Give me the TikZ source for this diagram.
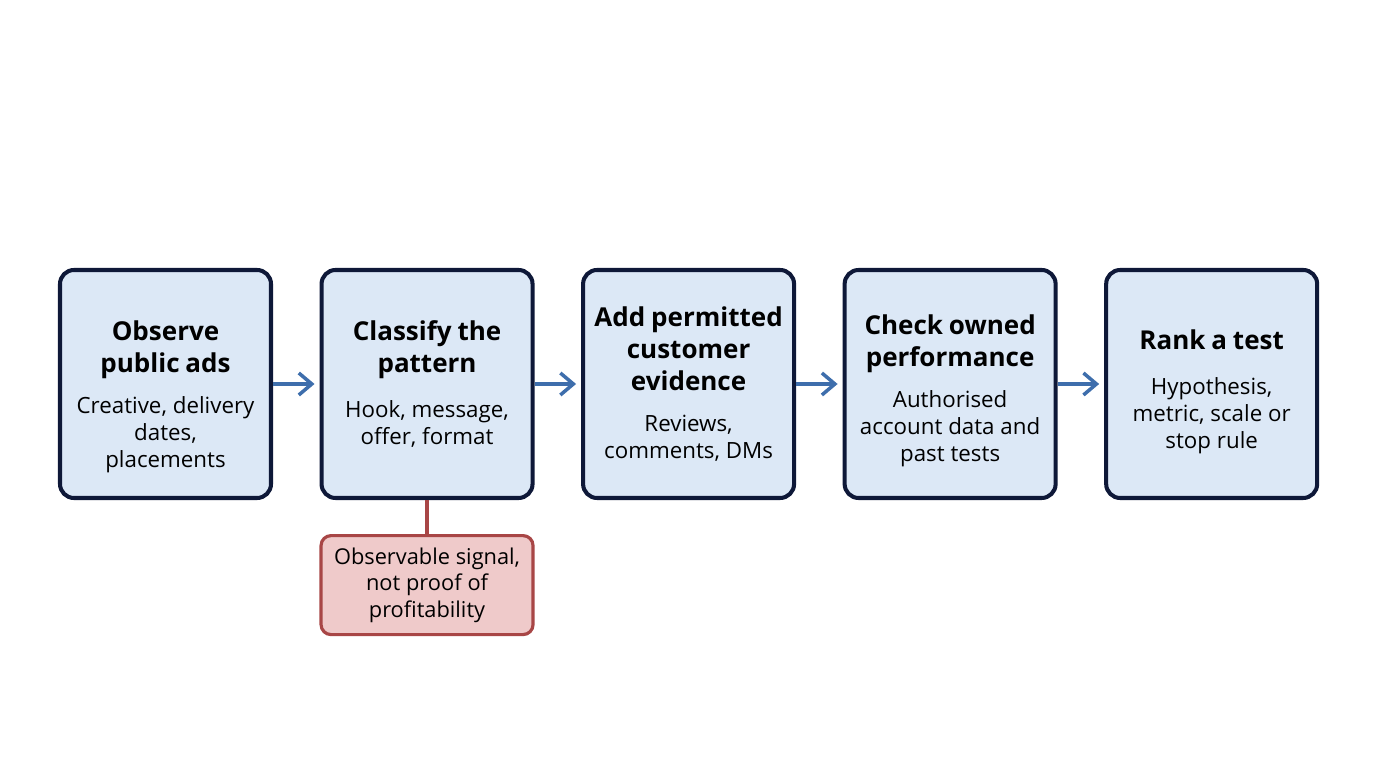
\documentclass[tikz,border=0pt]{standalone}
\usepackage{fontspec}
\setmainfont{Open Sans}
\usetikzlibrary{positioning,arrows.meta}

\definecolor{stepfill}{HTML}{DCE8F6}
\definecolor{stepdraw}{HTML}{0E1838}
\definecolor{flowblue}{HTML}{3E6EAC}
\definecolor{notefill}{HTML}{EFCACA}
\definecolor{notedraw}{HTML}{A84646}

\newcommand{\ttl}{\fontsize{14.8}{18.2}\selectfont\bfseries}
\newcommand{\bdy}{\fontsize{12.7}{15.4}\selectfont}

\begin{document}
\begin{tikzpicture}[
        stepbox/.style={rounded corners=0.28cm,fill=stepfill,draw=stepdraw,line width=2.3pt,
          minimum width=4.22cm,minimum height=4.56cm,text width=4.1cm,align=center,inner sep=0pt},
        notebox/.style={rounded corners=0.2cm,fill=notefill,draw=notedraw,line width=1.8pt,
          minimum width=4.24cm,minimum height=1.98cm,text width=4.1cm,align=center,inner sep=0pt},
        flow/.style={-{Straight Barb[length=0.26cm,width=0.44cm,line width=2pt]},flowblue,line width=2pt,shorten >=0.1cm},
        node distance=0.93cm,
      ]

      \useasboundingbox (0,0) rectangle (27.52,15.36);

      \node[stepbox] (observe) at (3.31,7.68) {\vskip0.28cm{\ttl Observe\\ public ads\par}\vskip8pt{\bdy Creative, delivery\\ dates,\\ placements\par}};
      \node[stepbox,right=of observe] (classify) {{\ttl Classify the\\ pattern\par}\vskip10pt{\bdy Hook, message,\\ offer, format\par}};
      \node[stepbox,right=of classify] (evidence) {{\ttl Add permitted\\ customer\\ evidence\par}\vskip8pt{\bdy Reviews,\\ comments, DMs\par}};
      \node[stepbox,right=of evidence] (owned) {\vskip0.04cm{\ttl Check owned\\ performance\par}\vskip8pt{\bdy Authorised\\ account data and\\ past tests\par}};
      \node[stepbox,right=of owned] (rank) {\vskip0.08cm{\ttl Rank a test\par}\vskip10pt{\bdy Hypothesis,\\ metric, scale or\\ stop rule\par}};

      \node[notebox,below=0.68cm of classify] (caveat) {\fontsize{12.4}{15}\selectfont Observable signal,\\ not proof of\\ profitability\par};

      % flow between the steps
      \draw[flow] (observe) -- (classify);
      \draw[flow] (classify) -- (evidence);
      \draw[flow] (evidence) -- (owned);
      \draw[flow] (owned) -- (rank);

      \draw[notedraw,line width=1.8pt] (classify.south) -- (caveat.north);

    \end{tikzpicture}
\end{document}
